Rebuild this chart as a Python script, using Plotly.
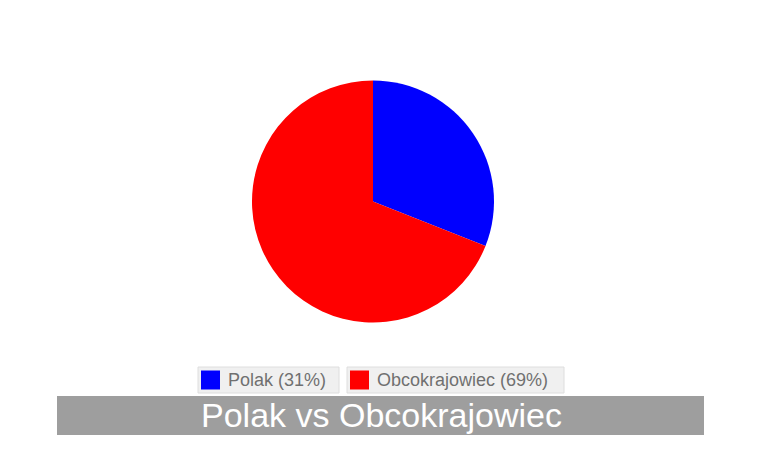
import plotly.graph_objects as go

# data
labels = ["Polak", "Obcokrajowiec"]
values = [31, 69]
colors = ["#0000ff", "#ff0000"]
chart_title = "Polak vs Obcokrajowiec"

W, H = 759, 456
OFF = 8  # page body margin

def px(x):
    return (x - OFF) / W

def py(y):
    return 1 - (y - OFF) / H

fig = go.Figure(go.Pie(
    labels=labels,
    values=values,
    sort=False,
    direction="clockwise",
    rotation=0,
    marker=dict(colors=colors, line=dict(width=0)),
    textinfo="none",
    showlegend=False,
    domain=dict(x=[px(252), px(494)], y=[py(322.5), py(80.5)]),
))

# legend boxes: (left, right) in pixels, drawn by hand
legend_boxes = [(198, 339), (347, 564)]
shapes = []
annotations = []
for (x0, x1), lab, val, col in zip(legend_boxes, labels, values, colors):
    shapes.append(dict(type="rect", xref="paper", yref="paper",
                       x0=px(x0), x1=px(x1), y0=py(393), y1=py(367),
                       fillcolor="#f0f0f0", line=dict(color="#dedede", width=1)))
    shapes.append(dict(type="rect", xref="paper", yref="paper",
                       x0=px(x0 + 3), x1=px(x0 + 22), y0=py(389.5), y1=py(370.5),
                       fillcolor=col, line=dict(width=0)))
    pct = round(100 * val / sum(values))
    annotations.append(dict(x=px(x0 + 28), y=py(380), xref="paper", yref="paper",
                            xanchor="left", yanchor="middle", showarrow=False,
                            text=f"{lab} ({pct}%)",
                            font=dict(family="Arial, Liberation Sans", size=18, color="#707070")))

# title bar
shapes.append(dict(type="rect", xref="paper", yref="paper",
                   x0=px(57), x1=px(704), y0=py(435), y1=py(396),
                   fillcolor="#9e9e9e", line=dict(width=0)))
annotations.append(dict(x=px(381), y=py(415), xref="paper", yref="paper",
                        xanchor="center", yanchor="middle", showarrow=False,
                        text=chart_title,
                        font=dict(family="Arial, Liberation Sans", size=34, color="#ffffff")))

fig.update_layout(
    width=W, height=H,
    margin=dict(l=0, r=0, t=0, b=0),
    paper_bgcolor="#ffffff",
    plot_bgcolor="#ffffff",
    shapes=shapes,
    annotations=annotations,
)

fig.write_html("out.html")
